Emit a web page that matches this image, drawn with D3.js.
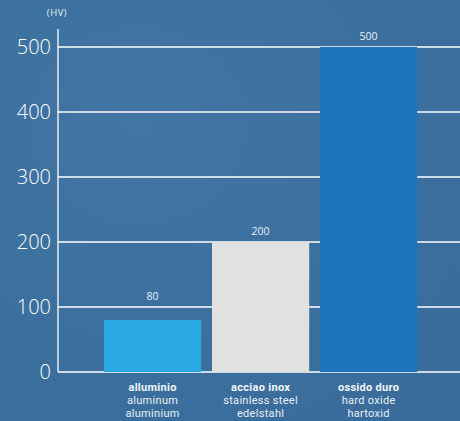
<!DOCTYPE html>
<html><head><meta charset="utf-8">
<script src="https://cdn.jsdelivr.net/npm/d3@7"></script>
<style>
html,body{margin:0;padding:0;}
body{width:460px;height:421px;overflow:hidden;background:#3d70a0;}
</style></head>
<body>
<svg id="c" width="460" height="421"></svg>
<script>
const categories = ["alluminio", "acciao inox", "ossido duro"];
const subLabels1 = ["aluminum", "stainless steel", "hard oxide"];
const subLabels2 = ["aluminium", "edelstahl", "hartoxid"];
const values = [80, 200, 500];
const barColors = ["#29a9e1", "#e1e1e2", "#1e74ba"];
const yTicks = [0, 100, 200, 300, 400, 500];
const unitLabel = "(HV)";

const svg = d3.select("#c");
const font = "'Open Sans', sans-serif";
const font2 = "Roboto, 'Open Sans', sans-serif";

const defs = svg.append("defs");
const g1 = defs.append("radialGradient").attr("id","bg").attr("cx","30%").attr("cy","30%").attr("r","90%");
g1.append("stop").attr("offset","0%").attr("stop-color","#4176a3");
g1.append("stop").attr("offset","60%").attr("stop-color","#3b6f9e");
g1.append("stop").attr("offset","100%").attr("stop-color","#396c9a");
svg.append("rect").attr("width",460).attr("height",421).attr("fill","url(#bg)");

const y = d3.scaleLinear().domain([0, 500]).range([372, 47]);
const x = d3.scaleBand().domain(categories).range([98.6, 422.6]).paddingInner(0.1).paddingOuter(0.05);
const axisX = 58;

svg.append("g").selectAll("line").data(yTicks).join("line")
  .attr("x1", axisX).attr("x2", 460)
  .attr("y1", d => y(d)).attr("y2", d => y(d))
  .attr("stroke", "#ffffff").attr("stroke-width", 1.3);

svg.append("g").selectAll("rect").data(values).join("rect")
  .attr("x", (d,i) => x(categories[i]))
  .attr("width", x.bandwidth())
  .attr("y", d => y(d))
  .attr("height", d => y(0) - y(d))
  .attr("fill", (d,i) => barColors[i]);

svg.append("line").attr("x1", axisX).attr("x2", axisX).attr("y1", 29).attr("y2", y(0))
  .attr("stroke", "#ffffff").attr("stroke-width", 1.3);

svg.append("g").selectAll("text").data(yTicks).join("text")
  .attr("x", 51).attr("y", d => y(d) + 7)
  .attr("text-anchor", "end")
  .attr("font-family", font).attr("font-size", 20).attr("font-weight", 300)
  .attr("fill", "#ffffff").text(d => d);

svg.append("text").attr("x", 57).attr("y", 16).attr("text-anchor","middle")
  .attr("font-family", font).attr("font-size", 9.5).attr("letter-spacing", 0.5)
  .attr("fill", "#e8eef5").text(unitLabel);

svg.append("g").selectAll("text").data(values).join("text")
  .attr("x", (d,i) => x(categories[i]) + x.bandwidth()/2)
  .attr("y", d => Math.min(y(d), y(100)) - 7)
  .attr("text-anchor", "middle")
  .attr("font-family", font).attr("font-size", 10.5)
  .attr("fill", "#e8eef5").text(d => d);

const cg = svg.append("g").selectAll("g").data(categories).join("g")
  .attr("transform", (d,i) => `translate(${x(d) + x.bandwidth()/2},0)`);
cg.append("text").attr("y", 391).attr("text-anchor","middle")
  .attr("font-family", font2).attr("font-size", 11).attr("font-weight", 700)
  .attr("letter-spacing", 0.3)
  .attr("fill", "#f2f5f8").text(d => d);
cg.append("text").attr("y", 404).attr("text-anchor","middle")
  .attr("font-family", font2).attr("font-size", 11).attr("letter-spacing", 0.3)
  .attr("fill", "#e8eef5").text((d,i) => subLabels1[i]);
cg.append("text").attr("y", 416.5).attr("text-anchor","middle")
  .attr("font-family", font2).attr("font-size", 11).attr("letter-spacing", 0.3)
  .attr("fill", "#e8eef5").text((d,i) => subLabels2[i]);
</script>
</body></html>
